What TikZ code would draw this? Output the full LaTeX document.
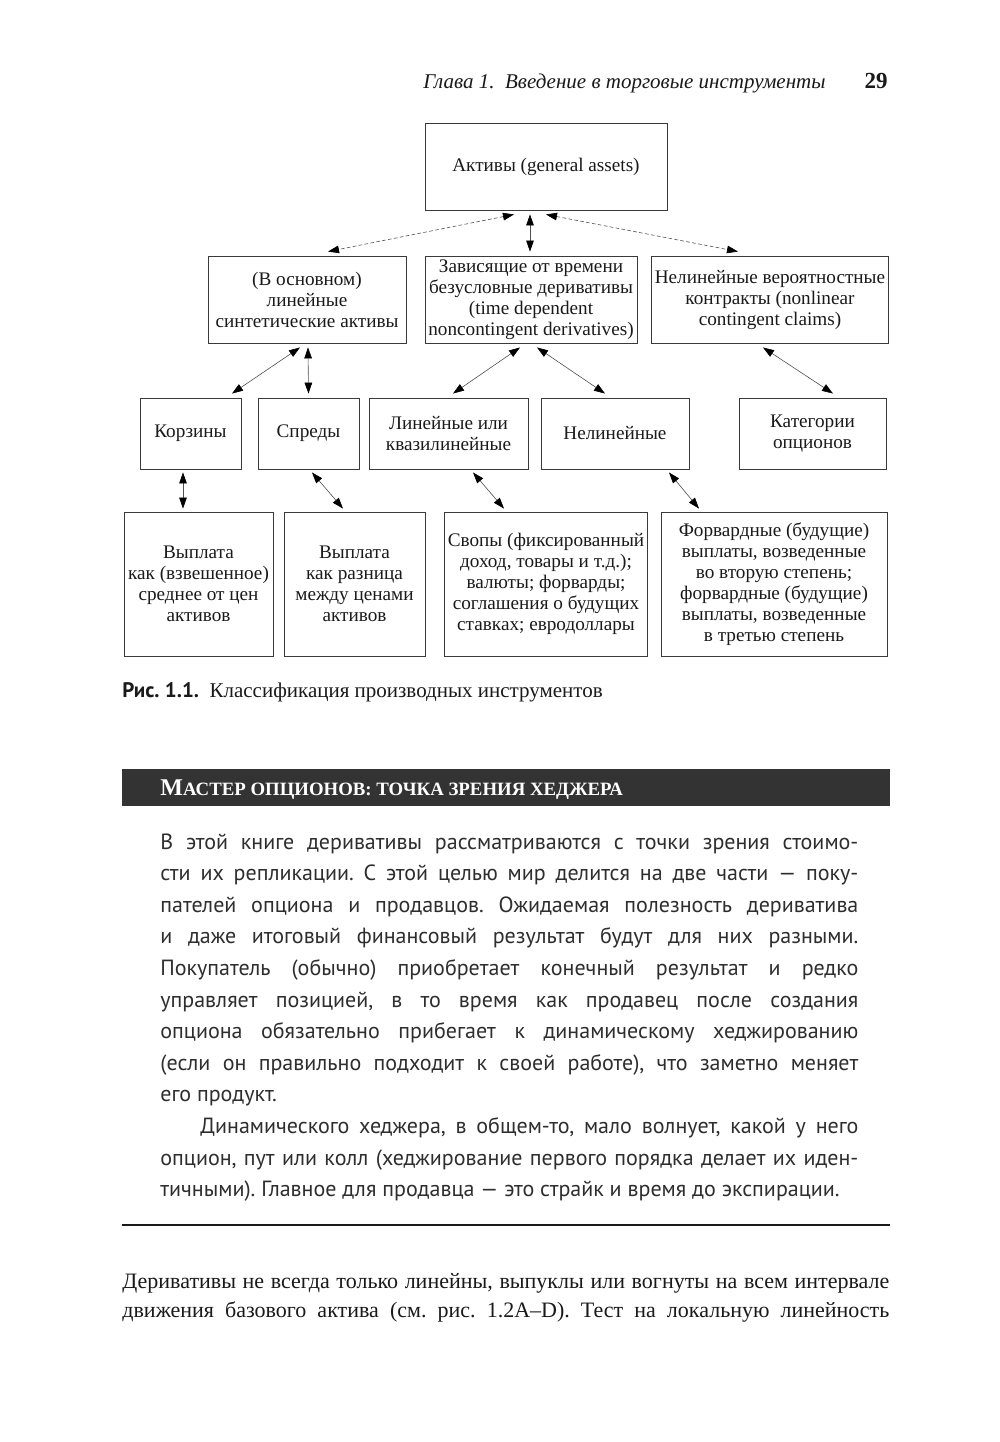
\documentclass[tikz,border=0pt]{standalone}
\usepackage{fontspec}
\setmainfont{Liberation Serif}
\newfontfamily\textsans{PT Sans}
\usetikzlibrary{arrows.meta, calc}
\definecolor{ink}{HTML}{1A1A1A}
\definecolor{frame}{HTML}{3A3A3A}
\definecolor{wire}{HTML}{505050}
\definecolor{bandfill}{HTML}{333333}
\definecolor{bodytext}{HTML}{2E2E2E}
\frenchspacing
\tikzset{
  cell/.style={draw=frame, line width=0.45pt, fill=white, align=center,
    inner sep=1.5pt, text=ink, font=\fontsize{9.6}{10.5}\selectfont},
  toprow/.style={cell, minimum height=43.5pt},
  midrow/.style={cell, minimum height=35.5pt},
  lowrow/.style={cell, minimum height=72pt},
  link/.style={{Triangle[length=5.5pt,width=3.8pt,color=black]}-{Triangle[length=5.5pt,width=3.8pt,color=black]},
    draw=wire, line width=0.3pt},
  dashlink/.style={link, dash pattern=on 1.8pt off 1.2pt},
  bodypar/.style={anchor=base west, inner sep=0pt, align=justify, text=bodytext,
    font=\textsans\fontsize{11}{15.8}\selectfont},
  mainpar/.style={anchor=base west, inner sep=0pt, align=justify, text=ink,
    font=\fontsize{11}{14.5}\selectfont},
  runhead/.style={anchor=base east, inner sep=0pt, text=ink}
}

\begin{document}
\begin{tikzpicture}[x=0.5pt, y=-0.5pt]
\useasboundingbox (0,0) rectangle (1000,1442);
\fill[white] (0,0) rectangle (1000,1442);

% Running head
\node[runhead, font=\itshape\fontsize{10.5}{12}\selectfont] (chapter) at (826,88)
  {Глава 1.\enspace Введение в торговые инструменты};
\node[runhead, font=\bfseries\fontsize{11.5}{12}\selectfont] (pageno) at (888,88) {29};

% Level 1
\node[toprow, minimum width=121pt] (assets) at (546,166.5) {Активы (general assets)};

% Level 2
\node[toprow, minimum width=99pt] (synth) at (307,299.5)
  {(В основном)\\линейные\\синтетические активы};
\node[toprow, minimum width=106pt] (timedep) at (531,299.5)
  {Зависящие от времени\\безусловные деривативы\\(time dependent\\noncontingent derivatives)};
\node[toprow, minimum width=118pt] (contingent) at (770,299.5)
  {Нелинейные вероятностные\\контракты (nonlinear\\contingent claims)};

% Level 3
\node[midrow, minimum width=50.5pt] (basket) at (190.5,433.5) {Корзины};
\node[midrow, minimum width=50.5pt] (spreads) at (308.5,433.5) {Спреды};
\node[midrow, minimum width=79.5pt] (linear) at (448.5,433.5) {Линейные или\\квазилинейные};
\node[midrow, minimum width=74pt] (nonlin) at (615,433.5) {Нелинейные};
\node[midrow, minimum width=73.5pt] (options) at (812.5,433.5) {Категории\\опционов};

% Level 4
\node[lowrow, minimum width=74.5pt] (payavg) at (198.5,584)
  {Выплата\\как (взвешенное)\\среднее от цен\\активов};
\node[lowrow, minimum width=70.5pt] (paydiff) at (354.5,584)
  {Выплата\\как разница\\между ценами\\активов};
\node[lowrow, minimum width=99pt] (swaps) at (546,584)
  {Свопы (фиксированный\\доход, товары и т.д.);\\валюты; форварды;\\соглашения о будущих\\ставках; евродоллары};
\node[lowrow, minimum width=113pt] (powers) at (774,584)
  {Форвардные (будущие)\\выплаты, возведенные\\во вторую степень;\\форвардные (будущие)\\выплаты, возведенные\\в третью степень};

% Links 1-2
\draw[dashlink] ($(assets.south)+(-32,4)$) -- ($(synth.north)+(21,-4)$);
\draw[link] ($(assets.south)+(-16,4)$) -- ($(timedep.north)+(-1,-4)$);
\draw[dashlink] ($(assets.south)+(0,4)$) -- ($(contingent.north)+(-32,-4)$);

% Links 2-3
\draw[link] ($(synth.south)+(-7,4)$) -- ($(basket.north)+(41.5,-4)$);
\draw[link] ($(synth.south)+(1,4)$) -- ($(spreads.north)+(0,-4)$);
\draw[link] ($(timedep.south)+(-11,4)$) -- ($(linear.north)+(4.5,-4)$);
\draw[link] ($(timedep.south)+(6,4)$) -- ($(nonlin.north)+(-10,-4)$);
\draw[link] ($(contingent.south)+(-7,4)$) -- ($(options.north)+(20.5,-4)$);

% Links 3-4
\draw[link] ($(basket.south)+(-7.5,3)$) -- ($(payavg.north)+(-15.5,-3)$);
\draw[link] ($(spreads.south)+(3.5,3)$) -- ($(paydiff.north)+(-11.5,-3)$);
\draw[link] ($(linear.south)+(24.5,3)$) -- ($(swaps.north)+(-42,-3)$);
\draw[link] ($(nonlin.south)+(54,3)$) -- ($(powers.north)+(-75,-3)$);

% Caption
\node[anchor=base west, inner sep=0pt, text=ink, font=\fontsize{10.5}{12}\selectfont] (caption) at (122,697)
  {{\textsans\bfseries Рис. 1.1.}\enspace Классификация производных инструментов};

% Sidebar
\fill[bandfill] (122,769) rectangle (890,806);
\node[anchor=base west, inner sep=0pt, text=white, font=\bfseries] (sidetitle) at (160,795)
  {{\fontsize{12}{13}\selectfont М}{\fontsize{9.4}{13}\selectfont АСТЕР ОПЦИОНОВ: ТОЧКА ЗРЕНИЯ ХЕДЖЕРА}};
\node[bodypar, text width=349pt] (sidetext) at (160,849)
  {\tolerance=9999\emergencystretch=20pt\hyphenpenalty=10000
   В этой книге деривативы рассматриваются с точки зрения стоимо-\linebreak
   сти их репликации. С этой целью мир делится на две части~— поку-\linebreak
   пателей опциона и продавцов. Ожидаемая полезность дериватива\linebreak
   и даже итоговый финансовый результат будут для них разными.\linebreak
   Покупатель (обычно) приобретает конечный результат и редко\linebreak
   управляет позицией, в то время как продавец после создания\linebreak
   опциона обязательно прибегает к динамическому хеджированию\linebreak
   (если он правильно подходит к своей работе), что заметно меняет\linebreak
   его продукт.\par
   \hspace*{20pt}Динамического хеджера, в общем-то, мало волнует, какой у него\linebreak
   опцион, пут или колл (хеджирование первого порядка делает их иден-\linebreak
   тичными). Главное для продавца~— это страйк и время до экспирации.};
\draw[ink, line width=1pt] (122,1225) -- (890,1225);

% Main text
\node[mainpar, text width=383.5pt] (maintext) at (122,1288)
  {\tolerance=9999\emergencystretch=20pt\hyphenpenalty=10000
   Деривативы не всегда только линейны, выпуклы или вогнуты на всем интервале\linebreak
   движения базового актива (см. рис. 1.2A–D). Тест на локальную линейность\linebreak};

\end{tikzpicture}
\end{document}
